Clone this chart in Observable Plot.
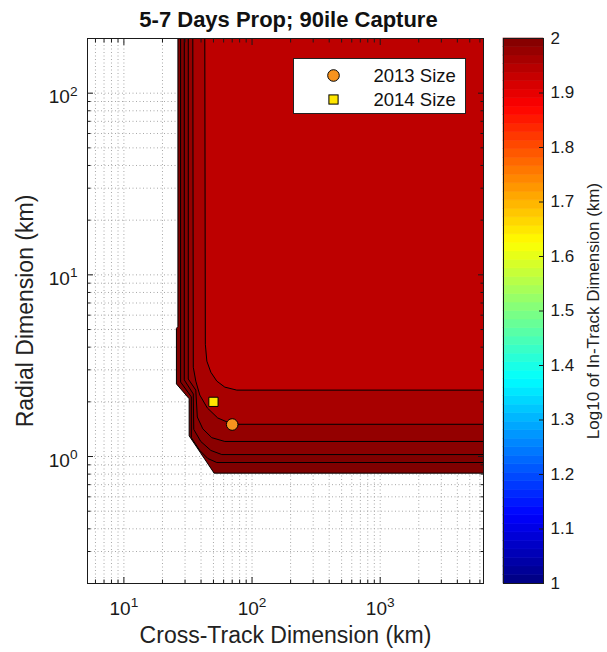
<!DOCTYPE html>
<html>
<head>
<meta charset="utf-8">
<script src="https://cdn.jsdelivr.net/npm/d3@7"></script>
<script src="https://cdn.jsdelivr.net/npm/@observablehq/plot@0.6"></script>
<style>
  body { margin: 0; background: #fff; font-family: "Liberation Sans", Arial, sans-serif; }
  #wrap { position: relative; width: 607px; height: 652px; overflow: hidden; background: #fff; }
  #wrap > svg { position: absolute; left: 0; top: 0; }
</style>
</head>
<body>
<div id="wrap"></div>
<script>
// ---------- texts ----------
const titleText = "5-7 Days Prop; 90ile Capture";
const xLabelText = "Cross-Track Dimension (km)";
const yLabelText = "Radial Dimension (km)";
const cbLabelText = "Log10 of In-Track Dimension (km)";

// ---------- axes ----------
const xDomain = [5.2, 6400];
const yDomain = [0.2, 200];
const xMajor = [10, 100, 1000];
const xMinor = [6, 7, 8, 9, 20, 30, 40, 50, 60, 70, 80, 90, 200, 300, 400, 500, 600, 700, 800, 900, 2000, 3000, 4000, 5000, 6000];
const yMajor = [1, 10, 100];
const yMinor = [0.3, 0.4, 0.5, 0.6, 0.7, 0.8, 0.9, 2, 3, 4, 5, 6, 7, 8, 9, 20, 30, 40, 50, 60, 70, 80, 90];
const cbDomain = [1, 2];
const cbTicks = [1, 1.1, 1.2, 1.3, 1.4, 1.5, 1.6, 1.7, 1.8, 1.9, 2];

// ---------- contour lines (cross-track km, radial km), outermost first ----------
const contourNames = ["edge", "c5", "c4", "c3", "c2", "c1"];
const contourLevels = [2.0, 2.0, 1.99, 1.98, 1.96, 1.94];
const contourEdge = [[26.4, 200], [26.4, 5.2], [25.7, 5.07], [25.7, 2.51], [32.3, 2.08], [32.3, 1.30], [50.6, 0.81], [6400, 0.81]];
const contour5 = [[27.7, 200], [27.7, 2.57], [33.6, 2.13], [33.6, 1.27], [39.1, 1.08], [45.2, 0.975], [53.1, 0.927], [6400, 0.927]];
const contour4 = [[29.6, 200], [29.6, 2.64], [34.8, 2.21], [35.1, 1.41], [39.8, 1.21], [47.7, 1.08], [58.1, 1.025], [6400, 1.025]];
const contour3 = [[31.8, 200], [31.8, 2.67], [36.4, 2.32], [37.4, 1.65], [41.3, 1.42], [48.5, 1.27], [61.3, 1.21], [6400, 1.21]];
const contour2 = [[34.5, 200], [34.8, 3.10], [36.4, 2.60], [39.1, 2.18], [44.8, 1.85], [54.0, 1.63], [70.4, 1.505], [6400, 1.505]];
const contour1 = [[42.8, 200], [43.2, 4.15], [44.4, 3.35], [47.7, 2.91], [53.1, 2.60], [61.3, 2.41], [76.0, 2.32], [6400, 2.32]];
const contourPaths = [contourEdge, contour5, contour4, contour3, contour2, contour1];

// ---------- markers ----------
const markerLabels = ["2013 Size", "2014 Size"];
const markerX = [70, 50];
const markerY = [1.5, 2.0];

// ---------- styles ----------
const markerFill = ["#f7931e", "#ffe600"];
const markerSymbol = ["circle", "square"];
const FONT = "'Liberation Sans', Arial, Helvetica, sans-serif";

function jet(t) {
  const c = v => Math.max(0, Math.min(1, v));
  return d3.rgb(
    255 * c(1.5 - Math.abs(4 * t - 3)),
    255 * c(1.5 - Math.abs(4 * t - 2)),
    255 * c(1.5 - Math.abs(4 * t - 1))
  ).formatHex();
}

// build tables
const contourRows = contourPaths.flatMap((pts, k) =>
  pts.concat([[xDomain[1], yDomain[1]]]).map(([x, y]) => ({x, y, name: contourNames[k], level: contourLevels[k]}))
);
const markers = markerLabels.map((label, i) => ({label, x: markerX[i], y: markerY[i], fill: markerFill[i], symbol: markerSymbol[i]}));
const nCells = 64;
const cbCells = d3.range(nCells).map(i => {
  const lo = cbDomain[0] + (cbDomain[1] - cbDomain[0]) * i / nCells;
  const hi = cbDomain[0] + (cbDomain[1] - cbDomain[0]) * (i + 1) / nCells;
  return {lo, hi, mid: (lo + hi) / 2};
});

const supFmt = d => `10^${Math.round(Math.log10(d))}`;
const axisColor = "#1a1a1a";

const main = Plot.plot({
  width: 607, height: 652,
  marginLeft: 87, marginRight: 124, marginTop: 38, marginBottom: 69,
  style: {fontFamily: FONT, background: "white", color: axisColor, overflow: "visible"},
  x: {type: "log", domain: xDomain, label: null},
  y: {type: "log", domain: yDomain, label: null},
  color: {type: "linear", domain: cbDomain, interpolate: jet},
  marks: [
    Plot.gridX(xMinor.concat(xMajor), {stroke: "#a8a8a8", strokeOpacity: 1, strokeDasharray: "1,2.5"}),
    Plot.gridY(yMinor.concat(yMajor), {stroke: "#a8a8a8", strokeOpacity: 1, strokeDasharray: "1,2.5"}),
    Plot.line(contourRows, {x: "x", y: "y", z: "name", fill: "level", stroke: "#000", strokeWidth: 1, curve: "linear", clip: true}),
    ...markers.map(m => Plot.dot([m], {x: "x", y: "y", symbol: m.symbol, r: m.symbol === "square" ? 5.2 : 5.8, fill: m.fill, stroke: "#000", strokeWidth: 1})),
    // tick labels
    Plot.axisX(xMajor, {anchor: "bottom", tickSize: 0, tickPadding: 18, fontSize: 19, tickFormat: supFmt, label: null}),
    Plot.axisY(yMajor, {anchor: "left", tickSize: 0, tickPadding: 10, fontSize: 19, dy: 4, tickFormat: supFmt, label: null}),
    // inward ticks on all four sides
    Plot.axisX(xMajor, {anchor: "bottom", tickSize: -6, fill: "none", label: null}),
    Plot.axisX(xMinor, {anchor: "bottom", tickSize: -3.5, fill: "none", label: null}),
    Plot.axisX(xMajor, {anchor: "top", tickSize: -6, fill: "none", label: null}),
    Plot.axisX(xMinor, {anchor: "top", tickSize: -3.5, fill: "none", label: null}),
    Plot.axisY(yMajor, {anchor: "left", tickSize: -6, fill: "none", label: null}),
    Plot.axisY(yMinor, {anchor: "left", tickSize: -3.5, fill: "none", label: null}),
    Plot.axisY(yMajor, {anchor: "right", tickSize: -6, fill: "none", label: null}),
    Plot.axisY(yMinor, {anchor: "right", tickSize: -3.5, fill: "none", label: null}),
    Plot.frame({stroke: axisColor, strokeWidth: 1}),
    // titles
    Plot.text([titleText], {frameAnchor: "top", lineAnchor: "middle", dy: -19, dx: 3, text: d => d, textAnchor: "middle", fontSize: 22, fontWeight: "bold", fill: "#111"}),
    Plot.text([xLabelText], {frameAnchor: "bottom", lineAnchor: "middle", dy: 52, text: d => d, textAnchor: "middle", fontSize: 23, fill: "#222"}),
    Plot.text([yLabelText], {frameAnchor: "left", lineAnchor: "middle", dx: -62, rotate: -90, text: d => d, textAnchor: "middle", fontSize: 23, fill: "#222"})
  ]
});

// superscript exponents
d3.select(main).selectAll('g[aria-label="x-axis tick label"] text, g[aria-label="y-axis tick label"] text').each(function () {
  const m = /^10\^(-?\d+)$/.exec(this.textContent);
  if (!m) return;
  const t = d3.select(this);
  t.text(null);
  t.append("tspan").text("10");
  t.append("tspan").attr("dy", "-0.55em").attr("font-size", "0.72em").text(m[1]);
});

const cbar = Plot.plot({
  width: 607, height: 652,
  marginLeft: 503, marginRight: 64, marginTop: 38, marginBottom: 69,
  style: {fontFamily: FONT, background: "transparent", color: axisColor, overflow: "visible"},
  x: {domain: [0, 1], axis: null},
  y: {domain: cbDomain, label: null},
  color: {type: "linear", domain: cbDomain, interpolate: jet},
  marks: [
    Plot.rect(cbCells, {y1: "lo", y2: "hi", fill: "mid", stroke: "mid", strokeWidth: 0.6}),
    Plot.axisY(cbTicks, {anchor: "right", tickSize: 0, tickPadding: 7, fontSize: 17, tickFormat: d => d3.format("")(+d.toFixed(1)), label: null}),
    Plot.axisY(cbTicks, {anchor: "right", tickSize: -5, fill: "none", label: null}),
    Plot.frame({stroke: axisColor, strokeWidth: 1}),
    Plot.text([cbLabelText], {frameAnchor: "right", lineAnchor: "middle", dx: 50, rotate: -90, text: d => d, textAnchor: "middle", fontSize: 17, fill: "#222"})
  ]
});

// legend box
const leg = d3.create("svg").attr("width", 607).attr("height", 652).style("position", "absolute").style("left", 0).style("top", 0);
const lx = 293.5, ly = 58.5, lw = 172, lh = 55;
leg.append("rect").attr("x", lx).attr("y", ly).attr("width", lw).attr("height", lh).attr("fill", "#fff").attr("stroke", "#222").attr("stroke-width", 1);
markers.forEach((m, i) => {
  const cy = ly + 17 + i * 24;
  if (m.symbol === "circle") {
    leg.append("circle").attr("cx", lx + 40).attr("cy", cy).attr("r", 5.8).attr("fill", m.fill).attr("stroke", "#000");
  } else {
    leg.append("rect").attr("x", lx + 40 - 4.6).attr("y", cy - 4.6).attr("width", 9.2).attr("height", 9.2).attr("fill", m.fill).attr("stroke", "#000");
  }
  leg.append("text").attr("x", lx + 80).attr("y", cy).attr("dy", "0.36em")
    .attr("font-family", FONT).attr("font-size", 18.5).attr("fill", "#111").text(m.label);
});

const wrap = document.getElementById("wrap");
wrap.append(main);
wrap.append(cbar);
wrap.append(leg.node());
</script>
</body>
</html>
